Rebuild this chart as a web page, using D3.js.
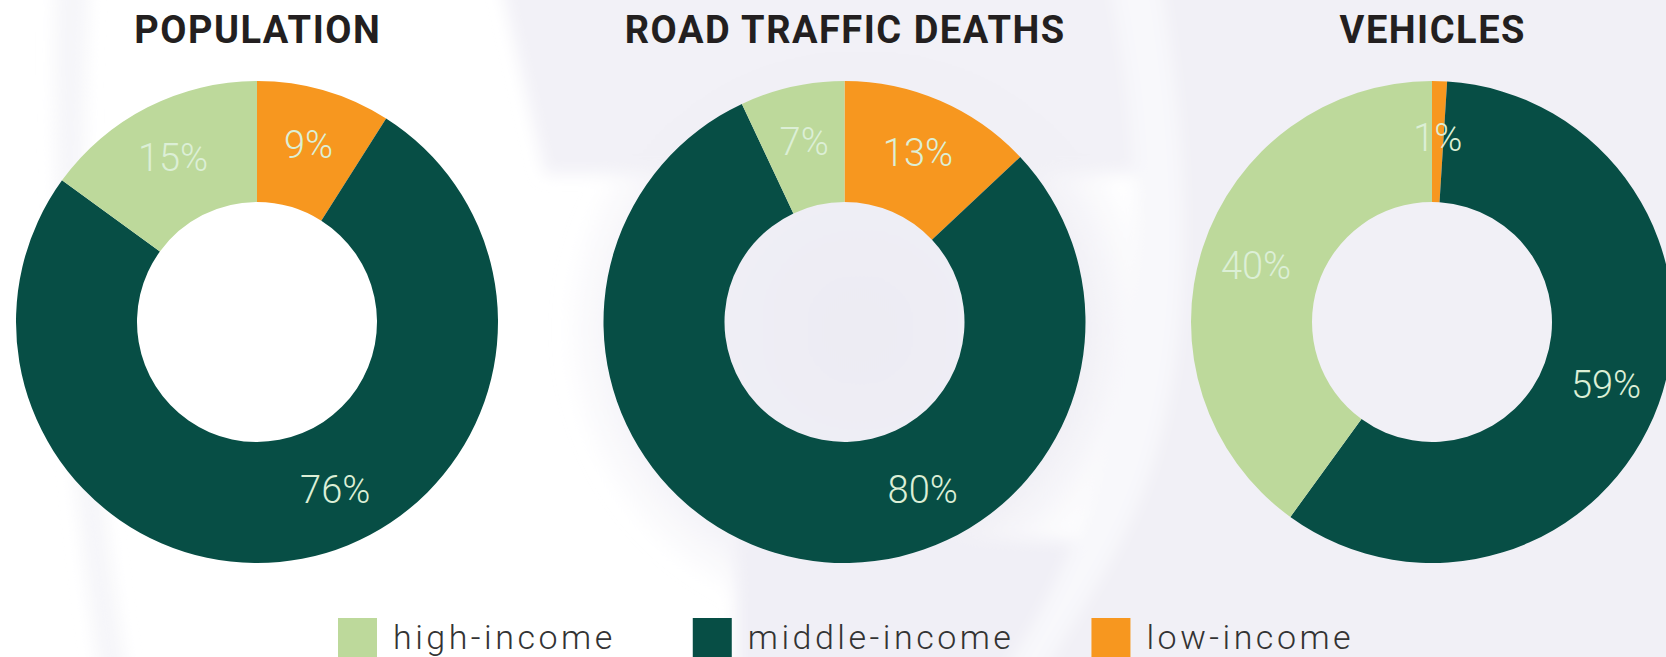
<!DOCTYPE html>
<html>
<head>
<meta charset="utf-8">
<script src="https://cdn.jsdelivr.net/npm/d3@7"></script>
<style>
  html, body { margin: 0; padding: 0; background: #fff; }
  svg { display: block; }
</style>
</head>
<body>
<svg width="1666" height="657"></svg>
<script>
// данные: доля каждой группы стран по трём показателям
const categories = ["high-income", "middle-income", "low-income"];
const chartTitles = ["POPULATION", "ROAD TRAFFIC DEATHS", "VEHICLES"];
const highIncome = [15, 7, 40];
const middleIncome = [76, 80, 59];
const lowIncome = [9, 13, 1];
const colors = ["#bdd99b", "#074e45", "#f7971f"];

const svg = d3.select("svg");
const width = +svg.attr("width");
const height = +svg.attr("height");

// фон: белый с лёгкими сиреневыми областями
const defs = svg.append("defs");
const rg = defs.append("radialGradient").attr("id", "glow");
rg.append("stop").attr("offset", "0%").attr("stop-color", "#ecebf3");
rg.append("stop").attr("offset", "75%").attr("stop-color", "#f1f0f6");
rg.append("stop").attr("offset", "100%").attr("stop-color", "#f1f0f6").attr("stop-opacity", 0);
defs.append("filter").attr("id", "soft")
    .attr("x", "-10%").attr("y", "-10%").attr("width", "120%").attr("height", "120%")
    .append("feGaussianBlur").attr("stdDeviation", 8);

svg.append("rect").attr("width", width).attr("height", height).attr("fill", "#ffffff");
const bg = svg.append("g").attr("filter", "url(#soft)");
// верхняя полоса над средней диаграммой
bg.append("path")
    .attr("d", "M500,-20 L1180,-20 L1180,174 L545,174 Z")
    .attr("fill", "#f2f1f7");
// свечение вокруг средней диаграммы
bg.append("circle")
    .attr("cx", 860).attr("cy", 330).attr("r", 300)
    .attr("fill", "url(#glow)");
// нижняя область справа от легенды
bg.append("path")
    .attr("d", "M736,540 L1700,540 L1700,680 L736,680 Z")
    .attr("fill", "#f0eff6");
// правая часть
bg.append("path")
    .attr("d", "M1150,-20 L1700,-20 L1700,680 L990,680 C1090,560 1140,420 1150,250 Z")
    .attr("fill", "#f1f0f6");
// светлая диагональная полоса
bg.append("path")
    .attr("d", "M1110,-20 L1160,-20 C1190,160 1195,330 1150,470 C1120,560 1070,620 1040,680 L1000,680 C1080,560 1130,420 1135,260 C1138,160 1130,80 1110,-20 Z")
    .attr("fill", "#f8f8fb");
// бледная дуга слева
bg.append("path")
    .attr("d", "M55,-20 L90,-20 C78,200 88,420 128,680 L100,680 C62,430 52,200 55,-20 Z")
    .attr("fill", "#f6f6f9");

const color = d3.scaleOrdinal().domain(categories).range(colors);

const centerX = d3.scalePoint()
    .domain(chartTitles)
    .range([257, 1432]);
const centerY = 322;
const outerR = 241;
const innerR = 120;
const labelR = 185;

// порядок по часовой стрелке от верха: low, middle, high
const pie = d3.pie()
    .sort(null)
    .value(d => d.value);

const arc = d3.arc()
    .innerRadius(innerR)
    .outerRadius(outerR);

chartTitles.forEach((title, i) => {
    const slices = [
        {key: "low-income", value: lowIncome[i]},
        {key: "middle-income", value: middleIncome[i]},
        {key: "high-income", value: highIncome[i]}
    ];
    const g = svg.append("g")
        .attr("transform", `translate(${centerX(title)},${centerY})`);

    const arcs = pie(slices);
    g.selectAll("path")
        .data(arcs)
        .join("path")
        .attr("d", arc)
        .attr("fill", d => color(d.data.key));

    g.selectAll("text.value")
        .data(arcs)
        .join("text")
        .attr("class", "value")
        .attr("transform", d => {
            let a = (d.startAngle + d.endAngle) / 2;
            // подпись большого сегмента сдвигаем вправо вниз
            if (d.endAngle - d.startAngle > Math.PI) a = Math.min(a, Math.PI * 155 / 180);
            return `translate(${labelR * Math.sin(a)},${-labelR * Math.cos(a)})`;
        })
        .attr("text-anchor", "middle")
        .attr("dy", "0.36em")
        .attr("font-family", "Roboto")
        .attr("font-weight", 300)
        .attr("font-size", 38)
        .attr("fill", "#dcefd6")
        .text(d => d.data.value + "%");

    svg.append("text")
        .attr("x", centerX(title) + 0.75)
        .attr("y", 43)
        .attr("text-anchor", "middle")
        .attr("font-family", "Roboto")
        .attr("font-weight", 700)
        .attr("font-size", 38)
        .attr("letter-spacing", 1.5)
        .attr("fill", "#231f20")
        .text(title);
});

// легенда
const legend = svg.append("g");
let lx = 338;
categories.forEach(c => {
    legend.append("rect")
        .attr("x", lx).attr("y", 618)
        .attr("width", 39).attr("height", 39)
        .attr("fill", color(c));
    const t = legend.append("text")
        .attr("x", lx + 55)
        .attr("y", 649)
        .attr("font-family", "Roboto")
        .attr("font-weight", 300)
        .attr("font-size", 34)
        .attr("letter-spacing", 3.5)
        .attr("fill", "#333333")
        .text(c);
    lx += 55 + t.node().getComputedTextLength() + 77;
});
</script>
</body>
</html>
